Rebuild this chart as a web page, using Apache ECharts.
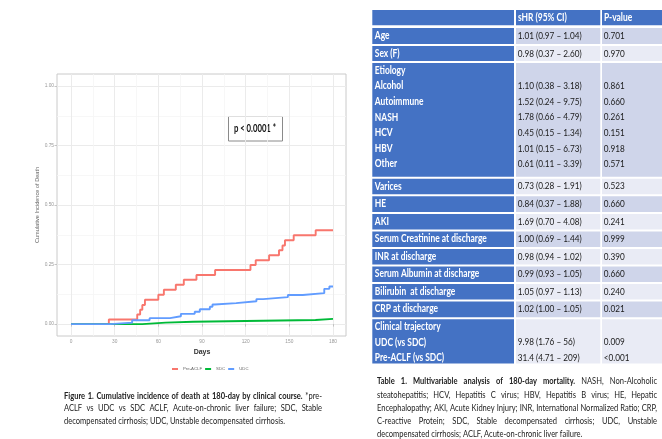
<!DOCTYPE html>
<html><head><meta charset="utf-8">
<script src="https://cdn.jsdelivr.net/npm/echarts@6/dist/echarts.min.js"></script>
<style>html,body{margin:0;padding:0;background:#fff}#c{width:662px;height:439px}</style>
</head><body><div id="c"></div>
<script>
// ---------- DATA ----------
const xTicks = [0, 30, 60, 90, 120, 150, 180];
const yTicks = [0, 0.25, 0.5, 0.75, 1];
const seriesNames = ['Pre-ACLF', 'SDC', 'UDC'];
const preACLF = [[0,0],[26,0.019],[45.5,0.04],[47.5,0.06],[49,0.08],[50.8,0.102],[60,0.123],[63.8,0.144],[72,0.165],[77.5,0.186],[86.2,0.206],[99,0.227],[123.3,0.248],[126.9,0.268],[136.1,0.289],[142.9,0.31],[145.3,0.33],[147,0.352],[153,0.373],[168.1,0.394],[180,0.394]];
const sdc = [[0,0],[49,0.006],[65,0.01],[84,0.017],[168,0.022],[180,0.022]];
const udc = [[0,0],[27,0.006],[42,0.016],[54,0.025],[68,0.033],[75.5,0.043],[85,0.052],[88.5,0.062],[95.4,0.073],[97.2,0.082],[98.8,0.088],[113.5,0.096],[127.4,0.105],[132,0.113],[149,0.122],[159.3,0.13],[174,0.148],[177.5,0.158],[180,0.158]];
const pText = 'p < 0.0001 *';
const yTitle = 'Cumulative Incidence of Death';
const xTitle = 'Days';

const headers = ['', 'sHR (95% CI)', 'P-value'];
const rowLabels = [['Age'],['Sex (F)'],['Etiology','Alcohol','Autoimmune','NASH','HCV','HBV','Other'],['Varices'],['HE'],['AKI'],['Serum Creatinine at discharge'],['INR at discharge'],['Serum Albumin at discharge'],['Bilirubin  at discharge'],['CRP at discharge'],['Clinical trajectory','UDC (vs SDC)','Pre-ACLF (vs SDC)']];
const rowHR = [['1.01 (0.97 – 1.04)'],['0.98 (0.37 – 2.60)'],['','1.10 (0.38 – 3.18)','1.52 (0.24 – 9.75)','1.78 (0.66 – 4.79)','0.45 (0.15 – 1.34)','1.01 (0.15 – 6.73)','0.61 (0.11 – 3.39)'],['0.73 (0.28 – 1.91)'],['0.84 (0.37 – 1.88)'],['1.69 (0.70 – 4.08)'],['1.00 (0.69 – 1.44)'],['0.98 (0.94 – 1.02)'],['0.99 (0.93 – 1.05)'],['1.05 (0.97 – 1.13)'],['1.02 (1.00 – 1.05)'],['','9.98 (1.76 – 56)','31.4 (4.71 – 209)']];
const rowP = [['0.701'],['0.970'],['','0.861','0.660','0.261','0.151','0.918','0.571'],['0.523'],['0.660'],['0.241'],['0.999'],['0.390'],['0.660'],['0.240'],['0.021'],['','0.009','<0.001']];

const figCaption = [
  {bold:'Figure 1. Cumulative incidence of death at 180-day by clinical course.', normal:'*pre-', justify:true},
  {bold:'', normal:'ACLF vs UDC vs SDC ACLF, Acute-on-chronic liver failure; SDC, Stable', justify:true},
  {bold:'', normal:'decompensated cirrhosis; UDC, Unstable decompensated cirrhosis.', justify:false}
];
const tabCaption = [
  {bold:'Table 1. Multivariable analysis of 180-day mortality.', normal:'NASH, Non-Alcoholic', justify:true},
  {bold:'', normal:'steatohepatitis; HCV, Hepatitis C virus; HBV, Hepatitis B virus; HE, Hepatic', justify:true},
  {bold:'', normal:'Encephalopathy; AKI, Acute Kidney Injury; INR, International Normalized Ratio; CRP,', justify:true},
  {bold:'', normal:'C-reactive Protein; SDC, Stable decompensated cirrhosis; UDC, Unstable', justify:true},
  {bold:'', normal:'decompensated cirrhosis; ACLF, Acute-on-chronic liver failure.', justify:false}
];

// ---------- LAYOUT / STYLE ----------
const COLORS = ['#F8766D', '#00BA38', '#619CFF'];
const FAM = 'Lato,"Open Sans",sans-serif';
const AXF = '"Liberation Sans",Arial,sans-serif';
const ctx = document.createElement('canvas').getContext('2d');
function measure(t, font){ ctx.font = font; return ctx.measureText(t).width; }

// condensing factors so that the humanist sans matches the narrow (Calibri-like) original
const F_BOLD = 'bold 10.6px ' + FAM, F_REG = '10.2px ' + FAM, CAP = 9.2;
const kB = 112 / measure('Serum Creatinine at discharge', F_BOLD);
const kR = 64 / measure('1.01 (0.97 – 1.04)', F_REG);
const kC = 221 / measure('decompensated cirrhosis; UDC, Unstable decompensated cirrhosis.', CAP + 'px ' + FAM);

function txt(t, x, y, font, fill, align, k){
  return {type:'text', x:x, y:y, scaleX:k, scaleY:1, silent:true,
    style:{text:t, font:font, fill:fill, align:align, textAlign:align, verticalAlign:'middle', textVerticalAlign:'middle'}};
}

function captionLine(line, x0, x1, y){
  const words = [];
  line.bold.split(' ').filter(Boolean).forEach(w => words.push({w, b:true}));
  line.normal.split(' ').filter(Boolean).forEach(w => words.push({w, b:false}));
  const fonts = words.map(o => (o.b ? 'bold ' : '') + CAP + 'px ' + FAM);
  const widths = words.map((o,i) => measure(o.w, fonts[i]) * kC);
  const total = widths.reduce((a,b)=>a+b, 0);
  const space = measure(' ', CAP + 'px ' + FAM) * kC;
  const gap = (line.justify && words.length > 1) ? (x1 - x0 - total)/(words.length - 1) : space;
  let x = x0; const els = [];
  words.forEach((o,i) => { els.push(txt(o.w, x, y, fonts[i], '#222', 'left', kC)); x += widths[i] + gap; });
  return els;
}

const graphics = [];
figCaption.forEach((l,i) => graphics.push(...captionLine(l, 64, 322, 396 + i*12.4)));
tabCaption.forEach((l,i) => graphics.push(...captionLine(l, 377, 657, 381.5 + i*13.1)));

// table
const COLS = [[372.3,514],[516,600.3],[602,662]];
const BLUE = '#4472C4', DARK = '#CFD5EA', LIGHT = '#E9EBF5';
const rowTop = [28,46,63,178.7,196.3,213.9,231.5,249,266.5,284,301.6,319.2];
const tableBottom = 363.5, LINE = 15.6;
function cellText(t, x, y, head){
  return head ? txt(t, x, y, F_BOLD, '#fff', 'left', kB) : txt(t, x, y, F_REG, '#1a1a1a', 'left', kR);
}
COLS.forEach((c,ci) => {
  graphics.push({type:'rect', silent:true, shape:{x:c[0], y:10, width:c[1]-c[0], height:15.3}, style:{fill:BLUE}});
  if (headers[ci]) graphics.push(cellText(headers[ci], c[0]+2, 17.6, true));
});
rowLabels.forEach((labels, ri) => {
  const top = rowTop[ri];
  const bottom = ri < rowLabels.length-1 ? rowTop[ri+1]-2 : tableBottom;
  COLS.forEach((c,ci) => {
    graphics.push({type:'rect', silent:true, shape:{x:c[0], y:top, width:c[1]-c[0], height:bottom-top}, style:{fill: ci===0 ? BLUE : (ri%2===0 ? DARK : LIGHT)}});
  });
  labels.forEach((t,j) => {
    const y = top + 7.4 + j*LINE;
    graphics.push(cellText(t, COLS[0][0]+2.5, y, true));
    if (rowHR[ri][j]) graphics.push(cellText(rowHR[ri][j], COLS[1][0]+1.7, y, false));
    if (rowP[ri][j]) graphics.push(cellText(rowP[ri][j], COLS[2][0]+1.7, y, false));
  });
});

// p-value box
const pFont = 'bold 10.4px ' + FAM;
const kP = 42 / measure(pText, pFont);
graphics.push({type:'rect', silent:true, shape:{x:228.5, y:116.5, width:54, height:24.5}, style:{fill:'#fff', stroke:'#8a8a8a', lineWidth:1}});
graphics.push(txt(pText, 255, 128.5, pFont, '#111', 'center', kP));

const gridLineColor = '#EBEBEB', minorColor = '#F5F5F5', tickColor = '#B8B8B8', labColor = '#999';
const chart = echarts.init(document.getElementById('c'), null, {renderer:'canvas'});
chart.setOption({
  animation:false,
  backgroundColor:'#fff',
  grid:[
    {left:57, top:74, width:289, height:262, show:true, backgroundColor:'#fff', borderColor:'#CACACA', borderWidth:1},
    {left:71, top:74, width:262, height:262},
    {left:57, top:86, width:289, height:238}
  ],
  xAxis:[
    {gridIndex:0, type:'value', show:false, min:0, max:1},
    {gridIndex:1, type:'value', min:xTicks[0], max:xTicks[xTicks.length-1], interval:30,
      name:xTitle, nameLocation:'middle', nameGap:12, nameTextStyle:{fontSize:7, fontWeight:'bold', color:'#333', fontFamily:AXF},
      axisLine:{show:false}, axisTick:{show:true, length:2.5, lineStyle:{color:tickColor, width:0.8}},
      axisLabel:{fontSize:4.8, color:labColor, margin:3, fontFamily:AXF},
      splitLine:{show:true, lineStyle:{color:gridLineColor, width:1}},
      minorTick:{show:false, splitNumber:2}, minorSplitLine:{show:true, lineStyle:{color:minorColor, width:0.8}}},
    {gridIndex:2, type:'value', show:false, min:0, max:1}
  ],
  yAxis:[
    {gridIndex:0, type:'value', show:false, min:0, max:1},
    {gridIndex:1, type:'value', show:false, min:-0.05, max:1.05, splitLine:{show:false}},
    {gridIndex:2, type:'value', min:yTicks[0], max:yTicks[yTicks.length-1], interval:0.25,
      name:yTitle, nameLocation:'middle', nameGap:14, nameRotate:90, nameTextStyle:{fontSize:5.6, color:'#666', fontFamily:AXF},
      axisLine:{show:false}, axisTick:{show:true, length:2.5, lineStyle:{color:tickColor, width:0.8}},
      axisLabel:{fontSize:4.8, color:labColor, margin:3, fontFamily:AXF, formatter:v => v.toFixed(2)},
      splitLine:{show:true, lineStyle:{color:gridLineColor, width:1}},
      minorTick:{show:false, splitNumber:2}, minorSplitLine:{show:true, lineStyle:{color:minorColor, width:0.8}}}
  ],
  legend:{data:seriesNames, left:167, top:362, itemWidth:6, itemHeight:2, itemGap:3, icon:'rect',
    textStyle:{fontSize:4.3, color:'#666', fontFamily:AXF}},
  series:[preACLF, sdc, udc].map((d,i) => ({
    name:seriesNames[i], type:'line', step:'end', xAxisIndex:1, yAxisIndex:1, data:d,
    showSymbol:false, symbol:'none', lineStyle:{color:COLORS[i], width:1.9}, itemStyle:{color:COLORS[i]}, z:3+i
  })),
  graphic:{elements:graphics}
});
</script></body></html>
